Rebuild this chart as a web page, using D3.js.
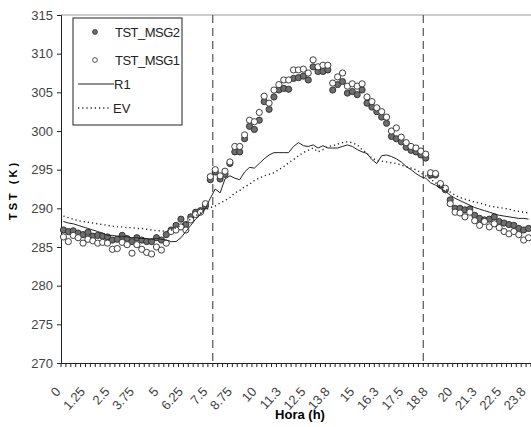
<!DOCTYPE html>
<html lang="en">
<head>
<meta charset="UTF-8">
<title>TST MSG</title>
<script src="https://d3js.org/d3.v7.min.js"></script>
<style>
  body { margin: 0; background: #fff; }
  text { font-family: "Liberation Sans", Arial, sans-serif; }
</style>
</head>
<body>
<svg width="531" height="427"></svg>
<script>
// values every 15 min, 0h .. 23.75h
const msg2 = [287.2,287.0,287.1,286.8,286.6,286.9,286.4,286.5,286.4,286.3,285.9,286.0,286.5,286.1,285.7,286.2,
  285.9,285.7,285.7,286.2,285.9,286.6,287.2,287.8,288.6,287.9,288.9,289.5,289.7,290.3,293.7,294.7,
  293.8,294.4,295.8,297.3,297.3,299.0,300.6,300.2,301.4,303.8,302.8,304.4,305.3,305.5,305.4,306.8,
  306.9,307.1,306.6,308.3,307.7,307.7,307.9,305.3,306.0,306.4,304.9,305.1,304.7,305.3,303.6,303.1,
  302.5,301.8,301.0,299.3,299.0,298.6,297.9,297.5,297.3,296.9,296.5,294.3,294.3,293.0,292.4,291.1,
  290.0,290.0,289.8,289.9,289.1,288.7,288.5,288.6,288.9,288.3,288.1,287.9,287.8,287.4,287.2,287.4];
const msg1 = [286.3,285.7,286.5,286.2,285.5,286.0,285.8,285.5,285.6,285.5,284.7,284.8,285.6,285.3,284.2,285.3,
  284.7,284.3,284.1,285.0,284.6,285.5,287.0,287.2,287.6,287.2,288.5,289.2,289.5,290.6,294.1,295.0,
  294.2,294.8,296.0,298.0,298.0,299.5,301.4,301.2,302.4,304.5,303.6,305.3,306.0,306.6,306.6,307.9,
  307.9,308.0,307.5,309.2,308.3,308.5,308.5,306.2,307.0,307.5,305.8,306.1,305.8,306.1,304.4,303.8,
  303.0,302.5,301.8,300.0,300.4,299.2,298.5,298.0,297.8,297.4,297.0,294.6,294.5,293.2,292.6,290.6,
  289.5,289.4,288.9,289.5,288.4,287.8,288.3,287.6,288.0,287.5,287.0,286.7,287.0,286.6,285.9,286.2];
const r1 = [288.3,288.1,288.0,287.8,287.6,287.4,287.2,287.0,286.8,286.5,286.5,286.4,286.4,286.3,286.2,286.2,
  286.1,286.1,286.0,286.1,286.0,285.9,285.7,285.7,286.2,287.0,287.8,288.6,289.2,290.0,291.3,292.5,
  292.0,293.8,294.2,293.9,293.7,294.7,295.3,295.2,295.8,296.4,296.9,297.2,297.2,297.2,297.2,298.0,
  298.5,298.1,298.0,298.2,297.8,298.1,297.8,297.8,297.8,298.0,298.2,298.0,297.6,297.3,297.1,296.3,
  295.8,296.8,296.9,296.7,296.4,296.0,295.4,295.0,294.5,294.1,293.9,293.3,293.0,292.6,292.2,291.7,
  291.3,291.0,290.7,290.4,290.1,289.9,289.7,289.5,289.3,289.1,289.0,288.9,288.8,288.7,288.7,288.6];
const ev = [289.0,288.8,288.6,288.4,288.3,288.2,288.1,288.0,287.9,287.8,287.7,287.6,287.6,287.5,287.5,287.4,
  287.4,287.3,287.2,287.1,287.1,287.0,287.2,287.5,287.8,288.2,288.6,289.0,289.4,289.8,290.1,290.3,
  290.7,291.0,291.4,292.0,292.3,292.8,293.1,293.6,293.9,294.2,294.4,294.6,295.0,295.4,295.9,296.3,
  296.8,297.2,297.5,297.8,297.3,297.6,298.0,298.1,298.3,298.5,298.6,298.5,298.2,297.6,297.1,296.5,
  296.2,296.1,296.0,295.9,295.8,295.6,295.4,295.2,295.0,294.6,294.2,293.8,293.3,292.9,292.5,292.1,
  291.7,291.4,291.2,291.0,290.8,290.7,290.5,290.3,290.2,290.1,290.0,289.9,289.7,289.6,289.5,289.4];

const tickLabels = ["0","1.25","2.5","3.75","5","6.25","7.5","8.75","10","11.3",
  "12.5","13.8","15","16.3","17.5","18.8","20","21.3","22.5","23.8"];
const yTicks = [270,275,280,285,290,295,300,305,310,315];
const dashHours = [7.75, 18.5];

const svg = d3.select("svg");
const mLeft = 61, mRight = 531, mTop = 15, mBottom = 363;

const hours = d3.range(96).map(i => i / 4);
const x = d3.scaleBand().domain(hours).range([mLeft, mRight]);
const y = d3.scaleLinear().domain([270, 315]).range([mBottom, mTop]);
const cx = h => x(h) + x.bandwidth() / 2;

// top border of plot area
svg.append("line").attr("x1", mLeft).attr("x2", mRight).attr("y1", mTop).attr("y2", mTop)
  .attr("stroke", "#999");

// y axis
const yAxis = svg.append("g").attr("transform", `translate(${mLeft},0)`)
  .call(d3.axisLeft(y).tickValues(yTicks).tickSize(4).tickPadding(4));
yAxis.select(".domain").attr("stroke", "#222");
yAxis.selectAll(".tick line").attr("stroke", "#222");
yAxis.selectAll("text").attr("font-size", 13).attr("fill", "#444")
  .attr("font-family", "Liberation Sans, Arial, sans-serif");

// x axis
const labelHours = hours.filter((h, i) => i % 5 === 0);
const xAxis = svg.append("g").attr("transform", `translate(0,${mBottom})`)
  .call(d3.axisBottom(x).tickValues(labelHours).tickSize(0)
    .tickFormat((d, i) => tickLabels[i]));
xAxis.select(".domain").attr("stroke", "#222");
xAxis.selectAll("text")
  .attr("font-size", 13).attr("fill", "#444")
  .attr("font-family", "Liberation Sans, Arial, sans-serif")
  .attr("text-anchor", "end")
  .attr("dy", null).attr("y", null)
  .attr("transform", "translate(-2,29) rotate(-48)");

// minor ticks between categories
svg.append("g").selectAll("line").data(hours.concat([24]))
  .join("line")
  .attr("x1", d => d < 24 ? x(d) : mRight).attr("x2", d => d < 24 ? x(d) : mRight)
  .attr("y1", mBottom).attr("y2", mBottom + 4)
  .attr("stroke", "#222");

// dashed hour markers
svg.append("g").selectAll("line").data(dashHours).join("line")
  .attr("x1", d => x(d)).attr("x2", d => x(d))
  .attr("y1", mTop).attr("y2", mBottom)
  .attr("stroke", "#555").attr("stroke-width", 1.2)
  .attr("stroke-dasharray", "8,5");

// points
svg.append("g").selectAll("circle").data(msg2).join("circle")
  .attr("cx", (d, i) => cx(hours[i])).attr("cy", d => y(d)).attr("r", 3.1)
  .attr("fill", "#6e6e6e").attr("stroke", "#2a2a2a").attr("stroke-width", 0.9);
svg.append("g").selectAll("circle").data(msg1).join("circle")
  .attr("cx", (d, i) => cx(hours[i])).attr("cy", d => y(d)).attr("r", 3.1)
  .attr("fill", "#fff").attr("stroke", "#2a2a2a").attr("stroke-width", 0.9);

// lines
const line = d3.line().x((d, i) => cx(hours[i])).y(d => y(d));
svg.append("path").datum(r1).attr("d", line)
  .attr("fill", "none").attr("stroke", "#222").attr("stroke-width", 1);
svg.append("path").datum(ev).attr("d", line)
  .attr("fill", "none").attr("stroke", "#222").attr("stroke-width", 1.4)
  .attr("stroke-dasharray", "1.2,3");

// axis titles
svg.append("text").attr("x", 300).attr("y", 419).attr("text-anchor", "middle")
  .attr("font-size", 13).attr("font-weight", "bold").text("Hora (h)");
svg.append("text").attr("transform", "translate(17,190) rotate(-90)")
  .attr("text-anchor", "middle").attr("font-size", 11).attr("font-weight", "bold")
  .attr("letter-spacing", 3).text("TST (K)");

// legend
const lg = svg.append("g");
lg.append("rect").attr("x", 73).attr("y", 18).attr("width", 109).attr("height", 107)
  .attr("fill", "#fff").attr("stroke", "#222");
lg.append("circle").attr("cx", 95).attr("cy", 32).attr("r", 2.4)
  .attr("fill", "#6e6e6e").attr("stroke", "#2a2a2a").attr("stroke-width", 0.8);
lg.append("circle").attr("cx", 95).attr("cy", 60).attr("r", 2.4)
  .attr("fill", "#fff").attr("stroke", "#2a2a2a").attr("stroke-width", 0.8);
lg.append("line").attr("x1", 78).attr("x2", 114).attr("y1", 84).attr("y2", 84)
  .attr("stroke", "#222");
lg.append("line").attr("x1", 78).attr("x2", 111).attr("y1", 108).attr("y2", 108)
  .attr("stroke", "#222").attr("stroke-width", 1.4).attr("stroke-dasharray", "1.2,3");
const legendText = [["TST_MSG2", 115, 32], ["TST_MSG1", 115, 60], ["R1", 114, 84], ["EV", 113, 108]];
lg.selectAll("text.lt").data(legendText).join("text").attr("class", "lt")
  .attr("x", d => d[1]).attr("y", d => d[2]).attr("dy", "0.35em")
  .attr("font-size", 13).attr("fill", "#222").attr("textLength", d => d[0].length > 3 ? 65 : null)
  .text(d => d[0]);
</script>
</body>
</html>
